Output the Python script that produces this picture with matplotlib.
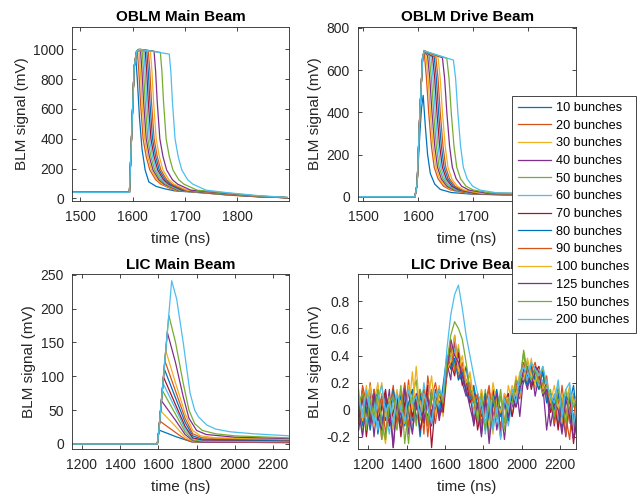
import numpy as np
import matplotlib
matplotlib.use('Agg')
import matplotlib.pyplot as plt

plt.rcParams['font.family'] = ['Liberation Sans', 'DejaVu Sans']

BUNCHES = [10, 20, 30, 40, 50, 60, 70, 80, 90, 100, 125, 150, 200]
COLORS = ['#0072BD', '#D95319', '#EDB120', '#7E2F8E', '#77AC30', '#4DBEEE', '#A2142F']

# --- OBLM main beam (time ns, signal mV), one list per bunch train ---
OBLM_MAIN_T = [
    [1485, 1594, 1599, 1603, 1606, 1609, 1613, 1618, 1624, 1631, 1645, 1660, 1680, 1780, 1840, 1895],
    [1485, 1594, 1599, 1603, 1607, 1609, 1612, 1615, 1620, 1626, 1633, 1644, 1654, 1679, 1780, 1840, 1895],
    [1485, 1594, 1599, 1603, 1608, 1612, 1615, 1618, 1623, 1629, 1636, 1647, 1657, 1682, 1780, 1840, 1895],
    [1485, 1594, 1599, 1603, 1608, 1615, 1618, 1621, 1626, 1632, 1639, 1650, 1660, 1685, 1780, 1840, 1895],
    [1485, 1594, 1599, 1603, 1608, 1618, 1621, 1624, 1629, 1635, 1642, 1653, 1663, 1688, 1780, 1840, 1895],
    [1485, 1594, 1599, 1603, 1608, 1621, 1624, 1627, 1632, 1638, 1645, 1656, 1666, 1691, 1780, 1840, 1895],
    [1485, 1594, 1599, 1603, 1608, 1624, 1627, 1630, 1635, 1641, 1648, 1659, 1669, 1694, 1780, 1840, 1895],
    [1485, 1594, 1599, 1603, 1608, 1627, 1630, 1633, 1638, 1644, 1651, 1662, 1672, 1697, 1780, 1840, 1895],
    [1485, 1594, 1599, 1603, 1608, 1630, 1633, 1636, 1641, 1647, 1654, 1665, 1675, 1700, 1780, 1840, 1895],
    [1485, 1594, 1599, 1603, 1608, 1634, 1637, 1640, 1645, 1651, 1658, 1669, 1679, 1704, 1780, 1840, 1895],
    [1485, 1594, 1599, 1603, 1608, 1612, 1641, 1644, 1647, 1652, 1658, 1665, 1676, 1686, 1711, 1780, 1840, 1895],
    [1485, 1594, 1599, 1603, 1608, 1612, 1653, 1656, 1659, 1664, 1670, 1677, 1688, 1698, 1723, 1780, 1840, 1895],
    [1485, 1594, 1599, 1603, 1608, 1614, 1670, 1673, 1676, 1681, 1687, 1694, 1705, 1715, 1740, 1780, 1840, 1895],
]
OBLM_MAIN_V = [
    [40, 40, 500, 880, 950, 800, 550, 330, 190, 110, 80, 65, 50, 25, 12, 4],
    [40, 40, 500, 880, 985, 990, 850, 650, 400, 280, 190, 125, 95, 55, 22, 10, 4],
    [40, 40, 500, 880, 990, 1000, 850, 650, 400, 280, 190, 125, 95, 55, 23, 10, 4],
    [40, 40, 500, 880, 990, 1000, 850, 650, 400, 280, 190, 125, 95, 55, 24, 11, 4],
    [40, 40, 500, 880, 990, 1000, 850, 650, 400, 280, 190, 125, 95, 55, 25, 11, 4],
    [40, 40, 500, 880, 990, 998, 850, 650, 400, 280, 190, 125, 95, 55, 26, 12, 4],
    [40, 40, 500, 880, 990, 996, 850, 650, 400, 280, 190, 125, 95, 55, 27, 12, 4],
    [40, 40, 500, 880, 990, 994, 850, 650, 400, 280, 190, 125, 95, 55, 28, 13, 5],
    [40, 40, 500, 880, 990, 992, 850, 650, 400, 280, 190, 125, 95, 55, 29, 13, 5],
    [40, 40, 500, 880, 990, 990, 850, 650, 400, 280, 190, 125, 95, 55, 30, 14, 5],
    [40, 40, 500, 880, 990, 1000, 988, 850, 650, 400, 280, 190, 125, 95, 55, 32, 15, 5],
    [40, 40, 500, 880, 990, 1000, 980, 850, 650, 400, 280, 190, 125, 95, 55, 35, 16, 5],
    [40, 40, 500, 880, 990, 1000, 968, 850, 650, 400, 280, 190, 125, 95, 55, 38, 18, 6],
]

# --- OBLM drive beam ---
OBLM_DRIVE_T = [
    [1491, 1594, 1598, 1603, 1606, 1609, 1613, 1617, 1622, 1630, 1640, 1660, 1700, 1780, 1887],
    [1491, 1594, 1598, 1603, 1608, 1611, 1615, 1619, 1624, 1629, 1636, 1646, 1659, 1691, 1780, 1887],
    [1491, 1594, 1598, 1603, 1608, 1611, 1614, 1618, 1622, 1627, 1632, 1639, 1649, 1662, 1694, 1780, 1887],
    [1491, 1594, 1598, 1603, 1608, 1611, 1617, 1621, 1625, 1630, 1635, 1642, 1652, 1665, 1697, 1780, 1887],
    [1491, 1594, 1598, 1603, 1608, 1611, 1620, 1624, 1628, 1633, 1638, 1645, 1655, 1668, 1700, 1780, 1887],
    [1491, 1594, 1598, 1603, 1608, 1611, 1623, 1627, 1631, 1636, 1641, 1648, 1658, 1671, 1703, 1780, 1887],
    [1491, 1594, 1598, 1603, 1608, 1611, 1626, 1630, 1634, 1639, 1644, 1651, 1661, 1674, 1706, 1780, 1887],
    [1491, 1594, 1598, 1603, 1608, 1611, 1629, 1633, 1637, 1642, 1647, 1654, 1664, 1677, 1709, 1780, 1887],
    [1491, 1594, 1598, 1603, 1608, 1611, 1632, 1636, 1640, 1645, 1650, 1657, 1667, 1680, 1712, 1780, 1887],
    [1491, 1594, 1598, 1603, 1608, 1611, 1636, 1640, 1644, 1649, 1654, 1661, 1671, 1684, 1716, 1780, 1887],
    [1491, 1594, 1598, 1603, 1608, 1611, 1644, 1648, 1652, 1657, 1662, 1669, 1679, 1692, 1724, 1780, 1887],
    [1491, 1594, 1598, 1603, 1608, 1611, 1652, 1656, 1660, 1665, 1670, 1677, 1687, 1700, 1732, 1780, 1887],
    [1491, 1594, 1598, 1603, 1608, 1611, 1664, 1668, 1672, 1677, 1682, 1689, 1699, 1712, 1744, 1780, 1887],
]
OBLM_DRIVE_V = [
    [0, 0, 60, 300, 420, 480, 330, 200, 110, 60, 35, 20, 12, 8, 2],
    [0, 0, 60, 400, 660, 680, 560, 400, 240, 140, 85, 50, 32, 15, 6, 2],
    [0, 0, 60, 400, 660, 690, 670, 560, 400, 240, 140, 85, 50, 32, 15, 7, 2],
    [0, 0, 60, 400, 660, 690, 668, 560, 400, 240, 140, 85, 50, 32, 15, 8, 2],
    [0, 0, 60, 400, 660, 690, 666, 560, 400, 240, 140, 85, 50, 32, 15, 9, 2],
    [0, 0, 60, 400, 660, 690, 665, 560, 400, 240, 140, 85, 50, 32, 15, 10, 2],
    [0, 0, 60, 400, 660, 690, 664, 560, 400, 240, 140, 85, 50, 32, 15, 11, 2],
    [0, 0, 60, 400, 660, 690, 663, 560, 400, 240, 140, 85, 50, 32, 15, 12, 2],
    [0, 0, 60, 400, 660, 690, 662, 560, 400, 240, 140, 85, 50, 32, 15, 13, 2],
    [0, 0, 60, 400, 660, 690, 661, 560, 400, 240, 140, 85, 50, 32, 16, 14, 2],
    [0, 0, 60, 400, 660, 690, 658, 560, 400, 240, 140, 85, 50, 32, 17, 15, 2],
    [0, 0, 60, 400, 660, 690, 655, 560, 400, 240, 140, 85, 50, 32, 18, 16, 2],
    [0, 0, 60, 400, 660, 690, 647, 560, 400, 240, 140, 85, 50, 32, 18, 17, 3],
]

# --- LIC main beam ---
LIC_MAIN_T = [
    [1150, 1595, 1604, 1690, 1775, 2285],
    [1150, 1595, 1603, 1607, 1690, 1740, 1780, 2285],
    [1150, 1595, 1603, 1612, 1690, 1740, 1780, 2285],
    [1150, 1595, 1603, 1616, 1690, 1740, 1780, 1830, 2285],
    [1150, 1595, 1603, 1621, 1690, 1740, 1780, 1830, 2285],
    [1150, 1595, 1603, 1624, 1690, 1740, 1780, 1830, 2285],
    [1150, 1595, 1603, 1627, 1690, 1740, 1780, 1830, 2285],
    [1150, 1595, 1603, 1631, 1690, 1740, 1780, 1830, 2285],
    [1150, 1595, 1603, 1634, 1690, 1740, 1780, 1830, 2285],
    [1150, 1595, 1603, 1639, 1690, 1740, 1780, 1820, 1900, 2285],
    [1150, 1595, 1603, 1647, 1690, 1730, 1760, 1800, 1850, 2000, 2285],
    [1150, 1595, 1603, 1655, 1690, 1730, 1760, 1790, 1830, 1900, 2000, 2285],
    [1150, 1595, 1603, 1670, 1696, 1730, 1766, 1790, 1810, 1853, 1900, 1975, 2100, 2285],
]
LIC_MAIN_V = [
    [0, 0, 20.5, 11, 3, 2],
    [0, 0, 20, 34, 17, 7, 3, 2],
    [0, 0, 20, 49, 26, 10, 4, 3],
    [0, 0, 20, 64, 35, 14, 5, 3, 3],
    [0, 0, 20, 79, 44, 18, 6, 4, 4],
    [0, 0, 20, 90, 52, 22, 8, 5, 4],
    [0, 0, 20, 99, 58, 26, 9, 6, 5],
    [0, 0, 20, 111, 68, 32, 12, 7, 5],
    [0, 0, 20, 123, 78, 38, 15, 9, 6],
    [0, 0, 20, 138, 90, 45, 20, 12, 9, 7],
    [0, 0, 20, 165, 120, 70, 38, 20, 14, 10, 8],
    [0, 0, 20, 190, 150, 90, 50, 30, 20, 15, 12, 9],
    [0, 0, 20, 241, 214, 150, 75, 50, 40, 28, 22, 18, 15, 12],
]

# --- LIC drive beam: samples every 20 ns from 1150 ns ---
LIC_DRIVE_T = np.arange(1150, 2291, 20)
LIC_DRIVE_V = [
    [0.05, -0.12, 0.10, -0.05, 0.15, -0.18, 0.02, 0.12, -0.10, 0.08,
     -0.02, -0.15, 0.18, 0.00, -0.08, 0.10, -0.20, 0.05, 0.12, -0.06,
     0.15, -0.04, 0.08, 0.30, 0.45, 0.35, 0.28, 0.20, 0.32, 0.10,
     0.15, -0.05, 0.08, -0.12, 0.05, -0.15, 0.10, -0.02, 0.05, -0.10,
     0.12, 0.02, 0.15, 0.20, 0.32, 0.18, 0.28, 0.22, 0.30, 0.10,
     0.05, -0.08, 0.12, -0.15, 0.08, 0.15, -0.10, 0.05],
    [-0.08, 0.15, -0.05, 0.20, -0.10, 0.05, -0.22, 0.10, 0.00, 0.18,
     -0.12, 0.08, -0.05, 0.22, -0.15, 0.02, 0.12, -0.18, 0.25, 0.05,
     -0.10, 0.12, 0.02, 0.38, 0.30, 0.50, 0.22, 0.35, 0.15, 0.20,
     -0.08, 0.12, -0.15, 0.05, 0.18, -0.10, 0.02, -0.20, 0.10, 0.05,
     -0.05, 0.15, 0.08, 0.28, 0.18, 0.35, 0.20, 0.30, 0.15, 0.25,
     0.02, 0.10, -0.12, 0.18, -0.05, -0.22, 0.12, -0.28],
    [0.12, -0.05, 0.18, -0.15, 0.05, 0.20, -0.10, -0.25, 0.10, 0.02,
     0.15, -0.12, 0.08, -0.02, 0.28, -0.08, 0.05, 0.15, -0.12, 0.10,
     0.02, 0.18, -0.05, 0.25, 0.42, 0.30, 0.48, 0.25, 0.18, 0.28,
     0.05, -0.10, 0.15, -0.05, 0.10, -0.18, 0.12, 0.00, -0.08, 0.18,
     0.05, 0.25, 0.10, 0.30, 0.22, 0.38, 0.15, 0.28, 0.20, 0.05,
     0.12, -0.05, 0.20, -0.10, 0.05, 0.18, -0.15, 0.02],
    [-0.15, 0.08, -0.02, 0.12, -0.20, 0.10, 0.05, -0.08, 0.15, -0.28,
     0.08, -0.05, 0.12, -0.18, 0.05, 0.00, 0.15, -0.10, 0.08, -0.02,
     0.10, -0.08, 0.12, 0.35, 0.22, 0.55, 0.30, 0.20, 0.10, 0.15,
     -0.12, 0.05, -0.20, 0.10, -0.05, 0.12, -0.15, 0.02, -0.22, 0.08,
     0.02, 0.20, -0.05, 0.25, 0.15, 0.32, 0.10, 0.25, 0.18, -0.15,
     0.08, -0.12, 0.15, 0.00, -0.20, 0.10, -0.05, -0.22],
    [0.02, -0.18, 0.12, 0.00, -0.10, 0.15, -0.22, 0.05, 0.10, -0.05,
     -0.15, 0.12, 0.02, -0.25, 0.10, 0.22, -0.08, 0.05, -0.12, 0.15,
     0.00, 0.10, 0.05, 0.28, 0.40, 0.32, 0.45, 0.25, 0.15, 0.05,
     0.10, 0.00, -0.12, 0.15, -0.20, 0.08, -0.05, 0.10, -0.15, 0.02,
     0.12, 0.05, 0.22, 0.42, 0.20, 0.30, 0.25, 0.15, 0.32, 0.08,
     0.15, -0.05, 0.08, 0.02, 0.15, -0.10, 0.12, 0.05],
    [0.08, 0.00, -0.10, 0.15, 0.05, -0.15, 0.12, -0.02, -0.18, 0.10,
     0.05, -0.08, 0.12, 0.02, -0.15, 0.08, -0.05, 0.20, 0.00, -0.10,
     0.12, 0.02, 0.15, 0.32, 0.38, 0.45, 0.30, 0.22, 0.18, 0.12,
     0.00, -0.10, 0.08, -0.18, 0.05, 0.12, -0.08, 0.00, 0.10, -0.12,
     0.05, 0.18, 0.12, 0.25, 0.35, 0.22, 0.28, 0.18, 0.22, 0.10,
     0.00, 0.12, -0.08, 0.05, 0.10, -0.05, 0.08, -0.02],
    [-0.05, 0.10, -0.20, 0.05, 0.12, -0.08, 0.02, 0.15, -0.12, -0.02,
     0.10, -0.20, 0.05, 0.12, -0.05, 0.08, -0.15, 0.00, 0.18, -0.28,
     0.05, 0.15, -0.02, 0.28, 0.35, 0.25, 0.42, 0.18, 0.22, 0.05,
     0.12, -0.15, 0.02, 0.10, -0.08, 0.15, -0.02, -0.12, 0.05, 0.12,
     -0.05, 0.10, 0.18, 0.22, 0.30, 0.15, 0.28, 0.32, 0.12, 0.20,
     -0.02, 0.08, -0.15, 0.10, -0.05, 0.12, -0.25, 0.00],
    [0.10, -0.05, 0.02, -0.15, 0.08, 0.12, -0.10, 0.05, -0.05, 0.15,
     0.00, 0.10, -0.12, 0.05, 0.15, -0.08, 0.10, 0.02, -0.05, 0.12,
     0.08, -0.02, 0.18, 0.40, 0.30, 0.38, 0.22, 0.28, 0.12, 0.08,
     0.18, 0.02, -0.05, 0.12, -0.10, 0.05, 0.15, -0.05, 0.08, -0.08,
     0.15, 0.10, 0.20, 0.25, 0.18, 0.32, 0.22, 0.15, 0.28, 0.05,
     0.12, 0.00, 0.15, -0.05, 0.10, 0.05, 0.18, -0.08],
    [-0.10, 0.18, 0.05, -0.08, 0.15, -0.02, 0.10, -0.18, 0.05, 0.12,
     -0.08, 0.02, 0.20, -0.12, 0.08, 0.10, -0.05, 0.15, -0.20, 0.08,
     0.20, 0.05, 0.10, 0.25, 0.48, 0.28, 0.35, 0.30, 0.22, 0.12,
     0.05, 0.12, -0.10, 0.02, 0.15, -0.05, 0.08, -0.15, 0.12, 0.00,
     0.08, 0.15, 0.25, 0.35, 0.22, 0.28, 0.35, 0.20, 0.18, 0.12,
     0.08, -0.10, 0.05, 0.12, -0.18, 0.02, -0.05, -0.15],
    [0.15, -0.08, 0.05, 0.18, -0.12, 0.02, 0.20, -0.05, 0.08, -0.15,
     0.12, 0.05, -0.10, 0.18, 0.00, 0.32, -0.05, 0.10, 0.05, 0.25,
     -0.05, 0.12, 0.08, 0.30, 0.35, 0.55, 0.28, 0.40, 0.20, 0.25,
     0.10, -0.05, 0.15, 0.02, -0.12, 0.20, 0.05, -0.02, 0.12, 0.05,
     0.18, 0.10, 0.28, 0.22, 0.38, 0.25, 0.20, 0.30, 0.15, 0.22,
     0.05, 0.18, 0.00, 0.12, -0.08, 0.15, 0.05, 0.10],
    [0.00, -0.20, 0.08, -0.10, 0.12, -0.05, -0.15, 0.10, 0.02, -0.28,
     0.05, -0.10, 0.15, -0.02, -0.18, 0.12, 0.00, -0.08, 0.10, -0.12,
     0.08, -0.05, 0.02, 0.30, 0.52, 0.40, 0.35, 0.25, 0.15, 0.02,
     -0.10, 0.05, -0.18, 0.08, -0.25, 0.02, 0.12, -0.20, 0.05, -0.05,
     0.10, 0.02, 0.15, 0.30, 0.25, 0.18, 0.32, 0.28, 0.10, 0.15,
     -0.12, 0.05, 0.00, -0.18, 0.08, -0.05, -0.22, 0.05],
    [0.05, 0.12, -0.15, 0.08, -0.05, 0.15, -0.10, -0.22, 0.05, 0.10,
     -0.05, 0.18, -0.25, 0.02, 0.10, -0.12, 0.15, 0.05, -0.08, 0.12,
     0.02, 0.15, 0.05, 0.35, 0.55, 0.65, 0.60, 0.52, 0.35, 0.15,
     0.08, -0.08, 0.12, -0.15, 0.05, 0.10, -0.05, 0.15, -0.10, 0.08,
     0.05, 0.22, 0.18, 0.44, 0.28, 0.22, 0.30, 0.20, 0.12, 0.18,
     0.10, -0.05, 0.15, 0.05, -0.10, 0.12, 0.02, 0.08],
    [0.10, -0.05, 0.15, 0.02, -0.10, 0.08, 0.18, -0.02, 0.05, -0.12,
     0.12, 0.00, -0.08, 0.15, 0.05, 0.10, -0.05, 0.12, 0.02, -0.10,
     0.08, 0.15, 0.10, 0.45, 0.70, 0.85, 0.92, 0.75, 0.55, 0.40,
     0.25, 0.12, 0.05, -0.10, 0.10, -0.15, 0.02, -0.22, 0.08, 0.00,
     0.15, 0.05, 0.25, 0.32, 0.22, 0.35, 0.30, 0.25, 0.32, 0.20,
     0.10, 0.05, 0.22, -0.05, 0.15, 0.20, -0.12, 0.08],
]

TITLES = ['OBLM Main Beam', 'OBLM Drive Beam', 'LIC Main Beam', 'LIC Drive Beam']

fig = plt.figure(figsize=(6.41, 4.98), dpi=100)
fig.patch.set_facecolor('white')

ax_pos = [
    [0.1128, 0.5964, 0.3385, 0.3500],
    [0.5590, 0.5964, 0.3396, 0.3500],
    [0.1128, 0.0984, 0.3385, 0.3508],
    [0.5590, 0.0984, 0.3396, 0.3508],
]
axes = [fig.add_axes(p) for p in ax_pos]

LW = 0.9
for i in range(len(BUNCHES)):
    c = COLORS[i % len(COLORS)]
    lbl = f'{BUNCHES[i]} bunches'
    axes[0].plot(OBLM_MAIN_T[i], OBLM_MAIN_V[i], color=c, lw=LW, label=lbl)
    axes[1].plot(OBLM_DRIVE_T[i], OBLM_DRIVE_V[i], color=c, lw=LW)
    axes[2].plot(LIC_MAIN_T[i], LIC_MAIN_V[i], color=c, lw=LW)
    axes[3].plot(LIC_DRIVE_T[:len(LIC_DRIVE_V[i])], LIC_DRIVE_V[i], color=c, lw=LW)

axes[0].set_xlim(1485, 1899)
axes[0].set_ylim(-18, 1152)
axes[0].set_xticks([1500, 1600, 1700, 1800])
axes[0].set_yticks([0, 200, 400, 600, 800, 1000])

axes[1].set_xlim(1491, 1887)
axes[1].set_ylim(-20, 805)
axes[1].set_xticks([1500, 1600, 1700, 1800])
axes[1].set_yticks([0, 200, 400, 600, 800])

axes[2].set_xlim(1151, 2284)
axes[2].set_ylim(-7.4, 250.5)
axes[2].set_xticks([1200, 1400, 1600, 1800, 2000, 2200])
axes[2].set_yticks([0, 50, 100, 150, 200, 250])

axes[3].set_xlim(1148, 2283)
axes[3].set_ylim(-0.29, 1.0)
axes[3].set_xticks([1200, 1400, 1600, 1800, 2000, 2200])
axes[3].set_yticks([-0.2, 0, 0.2, 0.4, 0.6, 0.8])
axes[3].set_yticklabels(['-0.2', '0', '0.2', '0.4', '0.6', '0.8'])

for ax, title in zip(axes, TITLES):
    ax.set_title(title, fontsize=11, fontweight='bold', color='black', pad=4)
    ax.set_xlabel('time (ns)', fontsize=11, color='#262626', labelpad=5.5)
    ax.set_ylabel('BLM signal (mV)', fontsize=11, color='#262626', labelpad=3)
    ax.tick_params(direction='in', top=True, right=True, length=3, width=0.6,
                   labelsize=10, colors='#262626')
    ax.tick_params(axis='x', pad=6.5)
    ax.tick_params(axis='y', pad=6)
    for s in ax.spines.values():
        s.set_color('#262626')
        s.set_linewidth(0.6)

handles, labels = axes[0].get_legend_handles_labels()
leg = fig.legend(handles, labels, loc='upper left', bbox_to_anchor=(0.798, 0.808),
                 borderaxespad=0, fontsize=9.2, handlelength=2.6, labelspacing=0.445,
                 borderpad=0.5, handletextpad=0.4, frameon=True, fancybox=False,
                 framealpha=1, edgecolor='#262626')
leg.get_frame().set_linewidth(0.6)
leg.set_zorder(10)

fig.savefig('out.png', dpi=100, facecolor='white')
